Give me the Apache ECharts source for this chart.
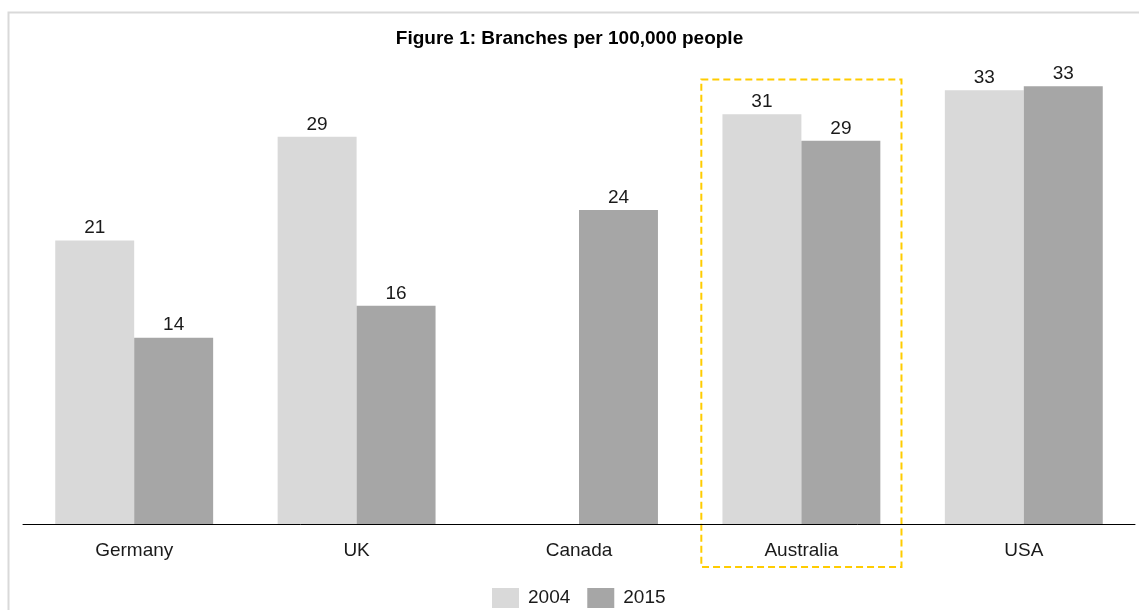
<!DOCTYPE html>
<html>
<head>
<meta charset="UTF-8">
<title>Branches per 100,000 people</title>
<script src="https://cdn.jsdelivr.net/npm/echarts@6/dist/echarts.min.js"></script>
<style>
  html, body { margin: 0; padding: 0; background: #fff; }
  #main { width: 1139px; height: 610px; }
</style>
</head>
<body>
<div id="main"></div>
<script>
// data
var countries = ['Germany', 'UK', 'Canada', 'Australia', 'USA'];
var years = ['2004', '2015'];
var values2004 = [21.3, 29.1, null, 30.8, 32.6];
var values2015 = [14.0, 16.4, 23.6, 28.8, 32.9];
var highlighted = 'Australia';

var font = 'Arial, "Liberation Sans", sans-serif';
var chart = echarts.init(document.getElementById('main'));

function label() {
  return {
    show: true,
    position: 'top',
    distance: 3,
    color: '#1a1a1a',
    fontSize: 19,
    fontFamily: font,
    formatter: function (p) { return Math.round(p.value); }
  };
}

var option = {
  animation: false,
  title: {
    text: 'Figure 1: Branches per 100,000 people',
    left: 'center',
    top: 24,
    textStyle: { fontSize: 19, fontWeight: 'bold', color: '#000', fontFamily: font }
  },
  legend: {
    data: years,
    bottom: -3,
    left: 487,
    icon: 'rect',
    itemWidth: 27,
    itemHeight: 20,
    itemGap: 17,
    textStyle: { fontSize: 19, color: '#1a1a1a', fontFamily: font, padding: [0, 0, 0, 4] }
  },
  grid: { left: 23, right: 4, top: 45, bottom: 86 },
  xAxis: {
    type: 'category',
    data: countries,
    axisLine: { lineStyle: { color: '#000', width: 1 } },
    axisTick: { show: false },
    axisLabel: { margin: 17, fontSize: 19, color: '#1a1a1a', fontFamily: font }
  },
  yAxis: {
    type: 'value',
    min: 0,
    max: 36,
    show: false,
    splitLine: { show: false }
  },
  series: [
    {
      name: years[0],
      type: 'bar',
      data: values2004,
      barGap: '0%',
      barCategoryGap: '29%',
      itemStyle: { color: '#d9d9d9' },
      label: label()
    },
    {
      name: years[1],
      type: 'bar',
      data: values2015,
      itemStyle: { color: '#a6a6a6' },
      label: label()
    }
  ]
};
chart.setOption(option);

// outer frame and dashed highlight around the chosen country
var boxX = chart.convertToPixel({ xAxisIndex: 0 }, highlighted);
var band = 1112 / countries.length;
var baseY = chart.convertToPixel({ yAxisIndex: 0 }, 0);
var boxTop = chart.convertToPixel({ yAxisIndex: 0 }, 33.4);
chart.setOption({
  graphic: [
    {
      type: 'polyline',
      silent: true,
      shape: { points: [[8.5, 620], [8.5, 12.5], [1139, 12.5]] },
      style: { stroke: '#d9d9d9', lineWidth: 2, fill: null }
    },
    {
      type: 'rect',
      silent: true,
      shape: { x: boxX - band * 0.45, y: boxTop, width: band * 0.9, height: baseY + 43 - boxTop },
      style: { fill: null, stroke: '#ffcc00', lineWidth: 2, lineDash: [7, 4] }
    }
  ]
});
</script>
</body>
</html>
